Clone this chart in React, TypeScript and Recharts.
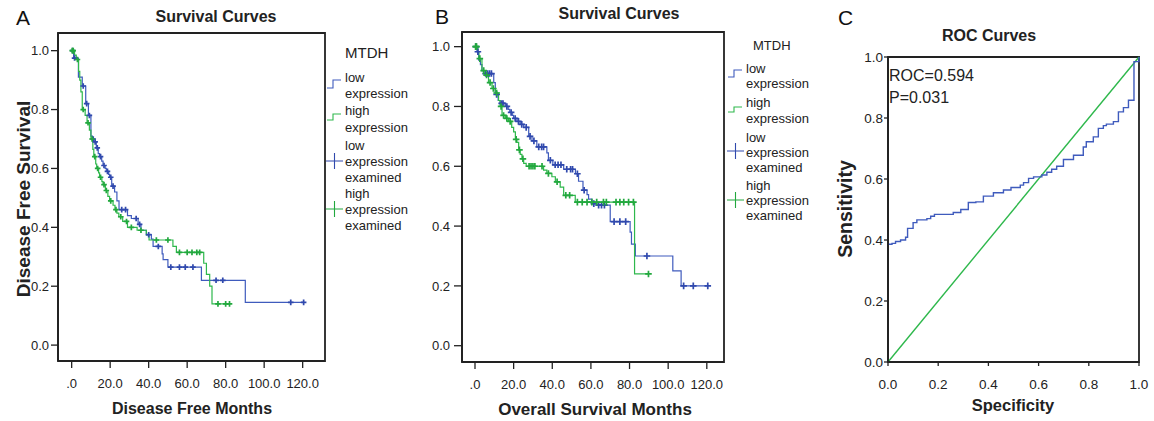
import React from 'react';
import { LineChart, Line, XAxis, YAxis, ReferenceArea } from 'recharts';

type Row = [number, number, number];

const FONT = '"Liberation Sans", Arial, Helvetica, sans-serif';
const BLUE = '#3f5bbd';
const BLUE_MARK = '#3049ad';
const GREEN = '#2eb84c';
const GREEN_MARK = '#22a83e';
const INK = '#222';

const monthTicks = [0, 20, 40, 60, 80, 100, 120];
const survTicks = [0, 0.2, 0.4, 0.6, 0.8, 1.0];
const rocTicks = [0, 0.2, 0.4, 0.6, 0.8, 1.0];

// [month, survival, censored]
const dfsLow: Row[] = [
  [0, 1, 0], [0.5, 1, 1], [1, 0.975, 0], [1.5, 0.975, 1], [3.5, 0.91, 0], [5.5, 0.88, 0], [6, 0.88, 1],
  [7.3, 0.82, 0], [7.8, 0.82, 1], [8.7, 0.78, 0], [9.2, 0.78, 1], [10, 0.71, 0], [10.8, 0.7, 0], [11.2, 0.7, 1],
  [11.6, 0.69, 0], [12.2, 0.69, 1], [12.8, 0.67, 0], [13.3, 0.67, 1], [13.8, 0.65, 0], [14.5, 0.64, 0],
  [15, 0.64, 1], [15.6, 0.625, 0], [16.3, 0.61, 0], [16.8, 0.61, 1], [17.4, 0.6, 0], [18, 0.59, 0],
  [18.6, 0.59, 1], [19.2, 0.58, 0], [19.7, 0.57, 0], [20.3, 0.57, 1], [20.8, 0.54, 0], [21.5, 0.54, 1],
  [22.3, 0.52, 0], [23.5, 0.49, 0], [24.6, 0.46, 0], [26, 0.46, 1], [28, 0.46, 1], [29, 0.44, 0],
  [31, 0.43, 0], [33.5, 0.43, 1], [34.5, 0.41, 0], [35.3, 0.41, 1], [36, 0.39, 0], [38.8, 0.375, 0],
  [40, 0.375, 1], [41.4, 0.36, 0], [42.3, 0.335, 0], [45, 0.335, 1], [47, 0.31, 0], [47.5, 0.29, 0],
  [50, 0.265, 0], [51.5, 0.265, 1], [56, 0.265, 1], [59, 0.265, 1], [63, 0.265, 1], [67.4, 0.22, 0],
  [75, 0.22, 1], [78.5, 0.22, 1], [90.2, 0.145, 0], [113.8, 0.145, 1], [120.5, 0.145, 1],
];

const dfsHigh: Row[] = [
  [0, 1, 0], [0.3, 1, 1], [0.8, 1, 1], [1.5, 0.985, 0], [2.4, 0.97, 0], [3, 0.97, 1], [3.6, 0.93, 0],
  [4.2, 0.9, 0], [4.8, 0.86, 0], [5.5, 0.8, 0], [6, 0.8, 1], [7, 0.78, 0], [8, 0.755, 0], [8.5, 0.755, 1],
  [9.2, 0.73, 0], [10, 0.7, 0], [10.6, 0.7, 1], [11, 0.665, 0], [11.5, 0.64, 0], [12, 0.64, 1],
  [12.5, 0.615, 0], [13, 0.6, 0], [13.5, 0.6, 1], [14, 0.585, 0], [14.5, 0.57, 0], [15, 0.57, 1],
  [15.7, 0.555, 0], [16.3, 0.545, 0], [16.8, 0.545, 1], [17.5, 0.525, 0], [18, 0.525, 1], [18.8, 0.505, 0],
  [19.7, 0.49, 0], [20.3, 0.49, 1], [21.5, 0.475, 0], [22.5, 0.46, 0], [23, 0.46, 1], [23.5, 0.448, 0],
  [24.5, 0.436, 0], [25.5, 0.436, 1], [26.5, 0.42, 0], [28.5, 0.42, 1], [29, 0.4, 0], [31, 0.4, 1],
  [34, 0.39, 0], [36, 0.39, 1], [38.8, 0.374, 0], [40.2, 0.357, 0], [44, 0.357, 1], [50, 0.357, 1],
  [52.6, 0.335, 0], [54.4, 0.315, 0], [56, 0.315, 1], [60, 0.315, 1], [62.5, 0.315, 1], [65, 0.315, 1],
  [66.5, 0.315, 1], [68.6, 0.278, 0], [70, 0.24, 0], [71.7, 0.2, 0], [72.9, 0.14, 0], [76, 0.14, 1],
  [80, 0.14, 1], [82, 0.14, 1],
];

const osLow: Row[] = [
  [0, 1, 0], [0.5, 1, 1], [1, 0.983, 0], [1.5, 0.983, 1], [1.9, 0.955, 0], [2.8, 0.94, 0], [3.6, 0.92, 0],
  [4.5, 0.91, 0], [5.5, 0.91, 1], [6.5, 0.91, 1], [7.5, 0.91, 1], [8.5, 0.91, 1], [9.7, 0.88, 0],
  [10.5, 0.84, 0], [11.2, 0.84, 1], [12, 0.82, 0], [13, 0.81, 0], [13.8, 0.81, 1], [14.5, 0.81, 1],
  [15.7, 0.8, 0], [16.5, 0.8, 1], [17.2, 0.79, 0], [18, 0.78, 0], [18.7, 0.78, 1], [19.3, 0.77, 0],
  [20, 0.76, 0], [20.8, 0.76, 1], [21.7, 0.75, 0], [22.5, 0.75, 1], [23.4, 0.74, 0], [24.2, 0.74, 1],
  [25.2, 0.73, 0], [26.5, 0.73, 1], [27.8, 0.7, 0], [28.5, 0.7, 1], [29.5, 0.685, 0], [30.5, 0.685, 1],
  [32, 0.665, 0], [33, 0.665, 1], [34.5, 0.665, 1], [35.5, 0.665, 1], [37.2, 0.645, 0], [38, 0.62, 0],
  [39, 0.62, 1], [40.3, 0.605, 0], [41.5, 0.605, 1], [43, 0.605, 1], [44.5, 0.605, 1], [45.9, 0.59, 0],
  [47.5, 0.59, 1], [49.5, 0.59, 1], [50.5, 0.59, 1], [52, 0.575, 0], [53, 0.575, 1], [53.6, 0.55, 0],
  [55.9, 0.52, 0], [56.5, 0.52, 1], [58, 0.505, 0], [58.8, 0.49, 0], [60.5, 0.475, 0], [61.5, 0.475, 1],
  [63, 0.47, 0], [64, 0.47, 1], [65.5, 0.47, 1], [67, 0.47, 1], [70, 0.415, 0], [72, 0.415, 1],
  [75, 0.415, 1], [78, 0.415, 1], [80.3, 0.38, 0], [81, 0.34, 0], [83, 0.3, 0], [89, 0.3, 1],
  [102.4, 0.25, 0], [106.7, 0.2, 0], [108, 0.2, 1], [113, 0.2, 1], [120.5, 0.2, 1],
];

const osHigh: Row[] = [
  [0, 1, 0], [0.3, 1, 1], [0.8, 1, 1], [1.5, 0.98, 0], [2, 0.96, 0], [2.5, 0.96, 1], [3.6, 0.92, 0],
  [4.5, 0.92, 1], [5.3, 0.905, 0], [6, 0.905, 1], [7, 0.88, 0], [7.8, 0.88, 1], [8.8, 0.86, 0],
  [9.5, 0.86, 1], [10.5, 0.845, 0], [11.2, 0.845, 1], [12.2, 0.82, 0], [13, 0.8, 0], [13.5, 0.8, 1],
  [14, 0.77, 0], [14.8, 0.77, 1], [15.7, 0.76, 0], [16.5, 0.76, 1], [17.4, 0.75, 0], [18.2, 0.75, 1],
  [19, 0.73, 0], [20, 0.715, 0], [20.9, 0.69, 0], [21.3, 0.69, 1], [21.7, 0.68, 0], [22.6, 0.655, 0],
  [23, 0.655, 1], [23.4, 0.64, 0], [24.3, 0.625, 0], [24.8, 0.625, 1], [25.2, 0.61, 0], [26.5, 0.6, 0],
  [28, 0.6, 1], [29, 0.6, 1], [30, 0.6, 1], [31, 0.6, 1], [34.7, 0.6, 1], [35.5, 0.587, 0],
  [37.2, 0.576, 0], [38, 0.576, 1], [39.8, 0.565, 0], [41.6, 0.548, 0], [42.5, 0.548, 1], [44.1, 0.53, 0],
  [45.9, 0.503, 0], [47, 0.503, 1], [49, 0.503, 1], [51.9, 0.48, 0], [53, 0.48, 1], [55.5, 0.48, 1],
  [58, 0.48, 1], [60.5, 0.48, 1], [63, 0.48, 1], [66.5, 0.48, 1], [68, 0.48, 1], [73, 0.48, 1],
  [75, 0.48, 1], [77, 0.48, 1], [79.5, 0.48, 1], [82, 0.48, 1], [82.6, 0.24, 0], [89.8, 0.24, 1],
];

// [x-axis value, sensitivity]
const rocCurve: [number, number][] = [
  [0, 0.386], [0.016, 0.389], [0.03, 0.395], [0.05, 0.4], [0.07, 0.409], [0.078, 0.438], [0.1, 0.457],
  [0.115, 0.466], [0.155, 0.47], [0.17, 0.478], [0.185, 0.484], [0.26, 0.49], [0.29, 0.5], [0.32, 0.523],
  [0.35, 0.525], [0.38, 0.544], [0.42, 0.555], [0.46, 0.564], [0.49, 0.572], [0.527, 0.58], [0.54, 0.588],
  [0.56, 0.602], [0.58, 0.607], [0.613, 0.613], [0.633, 0.622], [0.652, 0.632], [0.672, 0.642],
  [0.699, 0.664], [0.739, 0.678], [0.778, 0.705], [0.79, 0.722], [0.818, 0.738], [0.838, 0.766],
  [0.858, 0.775], [0.87, 0.78], [0.898, 0.788], [0.918, 0.82], [0.938, 0.834], [0.958, 0.858],
  [0.98, 0.985], [1.0, 1.0],
];
const rocReference: [number, number][] = [[0, 0], [1, 1]];

const legendTitle = 'MTDH';
const legendLabels: string[][] = [
  ['low', 'expression'],
  ['high', 'expression'],
  ['low', 'expression', 'examined'],
  ['high', 'expression', 'examined'],
];

const toRows = (arr: Row[]) => arr.map(([t, s, c]) => ({ t, s, c }));
const toXY = (arr: [number, number][]) => arr.map(([x, y]) => ({ x, y }));

const makeDot = (color: string, r: number) => (props: any) => {
  const { cx, cy, payload, index } = props;
  if (!payload || !payload.c || cx == null || cy == null) return <g key={`d${index}`} />;
  return (
    <path
      key={`d${index}`}
      d={`M${cx - r},${cy}H${cx + r}M${cx},${cy - r}V${cy + r}`}
      stroke={color}
      strokeWidth={1.7}
      fill="none"
    />
  );
};

const fmtMonth = (v: number) => (v === 0 ? '.0' : v.toFixed(1));
const fmt1 = (v: number) => v.toFixed(1);

type KMProps = {
  left: number;
  width: number;
  margin: { top: number; right: number; bottom: number; left: number };
  xDomain: [number, number];
  yDomain: [number, number];
  low: Row[];
  high: Row[];
  yTickSize: number;
  yTickMargin: number;
  mark: number;
};

function KMPanel(p: KMProps) {
  const tickStyle = { fill: INK, fontSize: 13, fontFamily: FONT };
  return (
    <div style={{ position: 'absolute', left: p.left, top: 0 }}>
      <LineChart width={p.width} height={421} margin={p.margin}>
        <XAxis
          dataKey="t"
          type="number"
          domain={p.xDomain}
          ticks={monthTicks}
          interval={0}
          tickFormatter={fmtMonth}
          tick={tickStyle}
          tickSize={7}
          tickMargin={11}
          height={30}
          tickLine={{ stroke: INK, strokeWidth: 1.3 }}
          axisLine={{ stroke: INK, strokeWidth: 1.8 }}
          allowDataOverflow
        />
        <YAxis
          type="number"
          domain={p.yDomain}
          ticks={survTicks}
          interval={0}
          tickFormatter={fmt1}
          tick={tickStyle}
          tickSize={p.yTickSize}
          tickMargin={p.yTickMargin}
          width={40}
          tickLine={{ stroke: INK, strokeWidth: 1.3 }}
          axisLine={{ stroke: INK, strokeWidth: 1.8 }}
          allowDataOverflow
        />
        <ReferenceArea
          x1={p.xDomain[0]}
          x2={p.xDomain[1]}
          y1={p.yDomain[0]}
          y2={p.yDomain[1]}
          fill="none"
          fillOpacity={0}
          stroke={INK}
          strokeWidth={1.8}
          ifOverflow="visible"
        />
        <Line
          data={toRows(p.low)}
          dataKey="s"
          type="stepAfter"
          stroke={BLUE}
          strokeWidth={1.2}
          dot={makeDot(BLUE_MARK, p.mark)}
          activeDot={false}
          isAnimationActive={false}
        />
        <Line
          data={toRows(p.high)}
          dataKey="s"
          type="stepAfter"
          stroke={GREEN}
          strokeWidth={1.2}
          dot={makeDot(GREEN_MARK, p.mark)}
          activeDot={false}
          isAnimationActive={false}
        />
      </LineChart>
    </div>
  );
}

function ROCPanel() {
  const tickStyle = { fill: INK, fontSize: 13.5, fontFamily: FONT };
  return (
    <div style={{ position: 'absolute', left: 820, top: 0 }}>
      <LineChart width={334} height={421} margin={{ top: 57, right: 15, bottom: 29, left: 28 }}>
        <XAxis
          dataKey="x"
          type="number"
          domain={[0, 1]}
          ticks={rocTicks}
          interval={0}
          tickFormatter={fmt1}
          tick={tickStyle}
          tickSize={4}
          tickMargin={13}
          height={30}
          tickLine={{ stroke: INK, strokeWidth: 1.3 }}
          axisLine={{ stroke: INK, strokeWidth: 1.8 }}
        />
        <YAxis
          type="number"
          domain={[0, 1]}
          ticks={rocTicks}
          interval={0}
          tickFormatter={fmt1}
          tick={tickStyle}
          tickSize={4}
          tickMargin={1}
          width={40}
          tickLine={{ stroke: INK, strokeWidth: 1.3 }}
          axisLine={{ stroke: INK, strokeWidth: 1.8 }}
        />
        <ReferenceArea
          x1={0}
          x2={1}
          y1={0}
          y2={1}
          fill="none"
          fillOpacity={0}
          stroke={INK}
          strokeWidth={1.8}
          ifOverflow="visible"
        />
        <Line
          data={toXY(rocReference)}
          dataKey="y"
          type="linear"
          stroke={GREEN}
          strokeWidth={1.4}
          dot={false}
          activeDot={false}
          isAnimationActive={false}
        />
        <Line
          data={toXY(rocCurve)}
          dataKey="y"
          type="stepAfter"
          stroke={BLUE}
          strokeWidth={1.4}
          dot={false}
          activeDot={false}
          isAnimationActive={false}
        />
      </LineChart>
    </div>
  );
}

type LegendProps = {
  iconX: number;
  textX: number;
  titleX: number;
  titleY: number;
  titleSize: number;
  lineYs: number[][];
  stepYs: [number, number][];
  crossYs: number[];
};

function KMLegend(p: LegendProps) {
  const colors = [BLUE, GREEN];
  const markColors = [BLUE_MARK, GREEN_MARK];
  const x0 = p.iconX;
  return (
    <g>
      <text x={p.titleX} y={p.titleY} fontSize={p.titleSize} fill={INK} dominantBaseline="central">
        {legendTitle}
      </text>
      {p.stepYs.map(([lo, hi], i) => (
        <path
          key={`s${i}`}
          d={`M${x0},${lo}H${x0 + 6}V${hi}H${x0 + 14}`}
          stroke={colors[i]}
          strokeWidth={1.1}
          fill="none"
        />
      ))}
      {p.crossYs.map((cy, i) => (
        <path
          key={`c${i}`}
          d={`M${x0 - 1},${cy}H${x0 + 16}M${x0 + 7.5},${cy - 8}V${cy + 8}`}
          stroke={markColors[i]}
          strokeWidth={1.1}
          fill="none"
        />
      ))}
      {legendLabels.map((lines, gi) =>
        lines.map((ln, li) => (
          <text
            key={`t${gi}-${li}`}
            x={p.textX}
            y={p.lineYs[gi][li]}
            fontSize={13}
            fill={INK}
            dominantBaseline="central"
          >
            {ln}
          </text>
        ))
      )}
    </g>
  );
}

export default function App() {
  return (
    <div
      style={{
        position: 'absolute',
        left: 0,
        top: 0,
        width: 1154,
        height: 421,
        background: '#fff',
        fontFamily: FONT,
        overflow: 'hidden',
      }}
    >
      <KMPanel
        left={0}
        width={330}
        margin={{ top: 33, right: 5, bottom: 30, left: 18 }}
        xDomain={[-7.1, 131.6]}
        yDomain={[-0.054, 1.06]}
        low={dfsLow}
        high={dfsHigh}
        yTickSize={7}
        yTickMargin={2}
        mark={2.8}
      />
      <KMPanel
        left={400}
        width={330}
        margin={{ top: 32, right: 6, bottom: 29, left: 22 }}
        xDomain={[-6.73, 128.9]}
        yDomain={[-0.0545, 1.049]}
        low={osLow}
        high={osHigh}
        yTickSize={8}
        yTickMargin={4}
        mark={3.3}
      />
      <ROCPanel />
      <svg
        width={1154}
        height={421}
        style={{ position: 'absolute', left: 0, top: 0, pointerEvents: 'none' }}
        fontFamily={FONT}
      >
        {/* Panel A */}
        <text x={16} y={17} fontSize={21} fill="#111" dominantBaseline="central">A</text>
        <text x={216} y={16} fontSize={16} fontWeight="bold" fill={INK} textAnchor="middle" dominantBaseline="central">
          Survival Curves
        </text>
        <text x={192} y={408} fontSize={16} fontWeight="bold" fill={INK} textAnchor="middle" dominantBaseline="central">
          Disease Free Months
        </text>
        <text
          x={23}
          y={199}
          fontSize={19}
          fontWeight="bold"
          fill={INK}
          textAnchor="middle"
          dominantBaseline="central"
          transform="rotate(-90 23 199)"
        >
          Disease Free Survival
        </text>
        <KMLegend
          iconX={327}
          textX={345}
          titleX={345}
          titleY={52}
          titleSize={15}
          lineYs={[[77, 93], [110, 127], [145, 161, 177], [193, 209, 225]]}
          stepYs={[[88, 80], [120, 114]]}
          crossYs={[161, 209]}
        />

        {/* Panel B */}
        <text x={435} y={16} fontSize={21} fill="#111" dominantBaseline="central">B</text>
        <text x={619} y={13} fontSize={16} fontWeight="bold" fill={INK} textAnchor="middle" dominantBaseline="central">
          Survival Curves
        </text>
        <text x={595} y={409} fontSize={17} fontWeight="bold" fill={INK} textAnchor="middle" dominantBaseline="central">
          Overall Survival Months
        </text>
        <KMLegend
          iconX={728}
          textX={746}
          titleX={753}
          titleY={45}
          titleSize={13}
          lineYs={[[68, 83], [102, 118], [137, 152, 167], [185, 200, 215]]}
          stepYs={[[77, 70], [112, 107]]}
          crossYs={[151, 200]}
        />

        {/* Panel C */}
        <text x={838} y={17} fontSize={21} fill="#111" dominantBaseline="central">C</text>
        <text x={989} y={35} fontSize={16} fontWeight="bold" fill={INK} textAnchor="middle" dominantBaseline="central">
          ROC Curves
        </text>
        <text x={1013} y={405} fontSize={16.5} fontWeight="bold" fill={INK} textAnchor="middle" dominantBaseline="central">
          Specificity
        </text>
        <text
          x={845}
          y={209}
          fontSize={19.5}
          fontWeight="bold"
          fill={INK}
          textAnchor="middle"
          dominantBaseline="central"
          transform="rotate(-90 845 209)"
        >
          Sensitivity
        </text>
        <text x={889} y={75} fontSize={16} fill={INK} dominantBaseline="central">ROC=0.594</text>
        <text x={889} y={97} fontSize={16} fill={INK} dominantBaseline="central">P=0.031</text>
      </svg>
    </div>
  );
}
